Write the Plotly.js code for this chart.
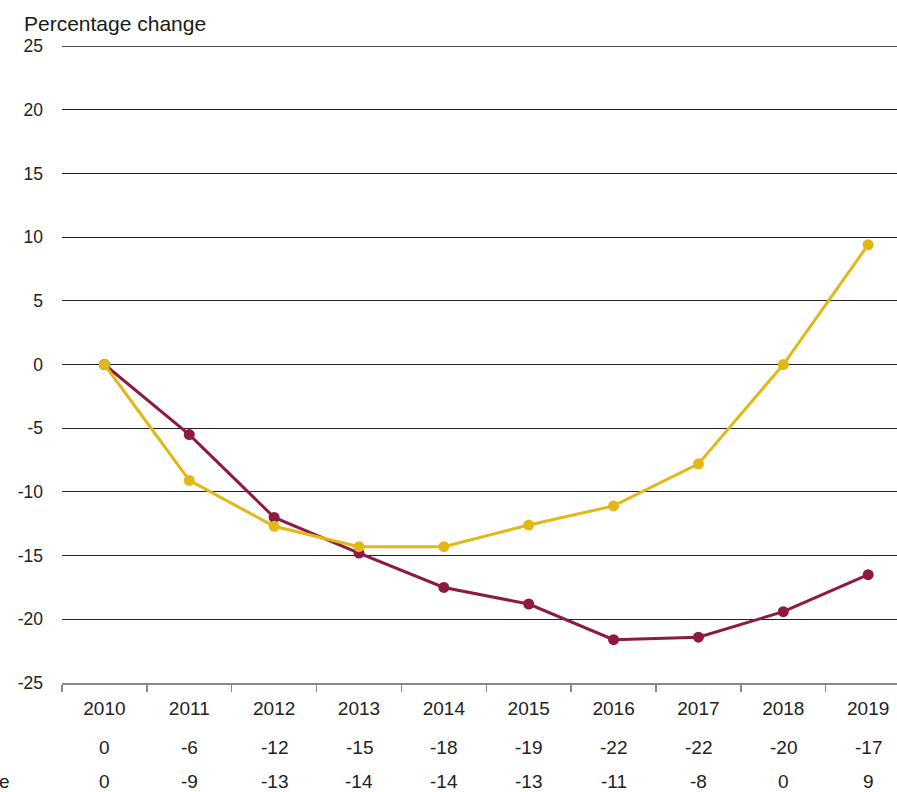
<!DOCTYPE html>
<html>
<head>
<meta charset="utf-8">
<script src="https://cdn.plot.ly/plotly-3.0.1.min.js"></script>
<style>html,body{margin:0;padding:0;background:#fff;}#chart{width:897px;height:792px;}</style>
</head>
<body>
<div id="chart"></div>
<script>
var years = ['2010','2011','2012','2013','2014','2015','2016','2017','2018','2019'];
var seriesRed = [0, -5.5, -12.0, -14.8, -17.5, -18.8, -21.6, -21.4, -19.4, -16.5];
var seriesYellow = [0, -9.1, -12.7, -14.3, -14.3, -12.6, -11.1, -7.8, 0, 9.4];
var tableRowRed = ['0','-6','-12','-15','-18','-19','-22','-22','-20','-17'];
var tableRowYellow = ['0','-9','-13','-14','-14','-13','-11','-8','0','9'];
var yTicks = [-25,-20,-15,-10,-5,0,5,10,15,20,25];

var font = 'Liberation Sans, Arial, sans-serif';
var traces = [
  {x: years, y: seriesRed, type: 'scatter', mode: 'lines+markers',
   line: {color: '#8E1B3E', width: 3}, marker: {color: '#8E1B3E', size: 11}, cliponaxis: false},
  {x: years, y: seriesYellow, type: 'scatter', mode: 'lines+markers',
   line: {color: '#E2B816', width: 3}, marker: {color: '#E2B816', size: 11}, cliponaxis: false}
];

var annotations = [];
years.forEach(function(yr, i){
  annotations.push({x: i, xref: 'x', y: -0.1005, yref: 'paper', text: tableRowRed[i], showarrow: false,
    xanchor: 'center', yanchor: 'middle', font: {family: font, size: 19, color: '#222'}});
  annotations.push({x: i, xref: 'x', y: -0.1554, yref: 'paper', text: tableRowYellow[i], showarrow: false,
    xanchor: 'center', yanchor: 'middle', font: {family: font, size: 19, color: '#222'}});
});
annotations.push({x: (12 - 62) / 835, xref: 'paper', y: -0.1554, yref: 'paper', text: 'e', showarrow: false,
  xanchor: 'right', yanchor: 'middle', font: {family: font, size: 19, color: '#222'}});
annotations.push({x: (22 - 62) / 835, xref: 'paper', y: 1 + (46 - 10) / 637, yref: 'paper', text: 'Percentage change',
  showarrow: false, xanchor: 'left', yanchor: 'top', font: {family: font, size: 21, color: '#1a1a1a'}});

var layout = {
  width: 897, height: 792,
  margin: {l: 62, r: 0, t: 46, b: 109},
  paper_bgcolor: '#fff', plot_bgcolor: '#fff',
  showlegend: false,
  font: {family: font, size: 18, color: '#222'},
  xaxis: {type: 'category', range: [-0.5, 9.34], showgrid: false, zeroline: false,
    showline: true, linecolor: '#888', linewidth: 1.5,
    ticks: 'outside', tickson: 'boundaries', ticklen: 7, tickcolor: '#888', tickwidth: 1.5,
    ticklabelstandoff: 8,
    tickfont: {family: font, size: 19, color: '#222'}, fixedrange: true},
  yaxis: {range: [-25, 25], tickvals: yTicks, ticktext: yTicks.map(String),
    showgrid: true, gridcolor: '#222', gridwidth: 1, zeroline: false, showline: false,
    ticks: '', ticklabelstandoff: 18,
    tickfont: {family: font, size: 17.5, color: '#222'}, fixedrange: true},
  shapes: [{type: 'line', xref: 'paper', yref: 'y', x0: 0, x1: 1, y0: 25, y1: 25,
    line: {color: '#111', width: 1.5}, layer: 'above'}],
  annotations: annotations
};
Plotly.newPlot('chart', traces, layout, {displayModeBar: false, staticPlot: true});
</script>
</body>
</html>
